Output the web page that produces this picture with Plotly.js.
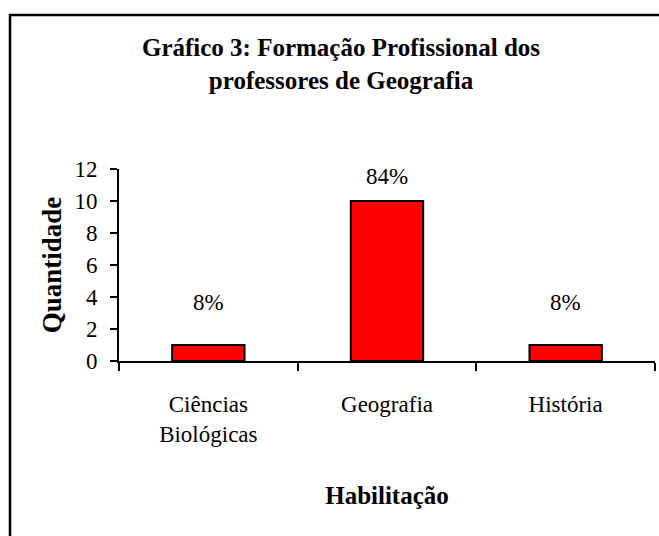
<!DOCTYPE html>
<html>
<head>
<meta charset="utf-8">
<script src="https://cdn.plot.ly/plotly-3.0.1.min.js"></script>
<style>html,body{margin:0;padding:0;background:#fff;}</style>
</head>
<body>
<div id="chart" style="width:659px;height:536px;"></div>
<script>
const categories = ["Ciências<br>Biológicas", "Geografia", "História"];
const quantities = [1, 10, 1];
const percentLabels = ["8%", "84%", "8%"];
const yTicks = [0, 2, 4, 6, 8, 10, 12];

const labelShift = [43, 25, 43];
const serif = "Liberation Serif";

const trace = {
  type: "bar",
  x: categories,
  y: quantities,
  marker: {color: "#FF0000", line: {color: "#000000", width: 2}},
  hoverinfo: "none"
};

const annotations = categories.map((c, i) => ({
  x: c, y: quantities[i], xref: "x", yref: "y",
  text: percentLabels[i], showarrow: false,
  yanchor: "middle", yshift: labelShift[i],
  font: {family: serif, size: 23, color: "#000"}
}));

const layout = {
  width: 659, height: 536,
  margin: {l: 119, r: 4, t: 169, b: 175},
  paper_bgcolor: "#fff", plot_bgcolor: "#fff",
  showlegend: false,
  bargap: 0.595,
  font: {family: serif, color: "#000"},
  title: {
    text: "<b>Gráfico 3: Formação Profissional dos<br>professores de Geografia</b>",
    font: {family: serif, size: 25, color: "#000"},
    xref: "container", x: 341/659, xanchor: "center",
    yref: "container", y: 1 - 56/536, yanchor: "top"
  },
  xaxis: {
    type: "category",
    range: [-0.5, 2.5],
    tickson: "boundaries",
    ticks: "outside", ticklen: 8, tickwidth: 2, tickcolor: "#000",
    showline: true, linecolor: "#000", linewidth: 2,
    showgrid: false, zeroline: false,
    tickfont: {family: serif, size: 23, color: "#000"},
    ticklabelstandoff: 21,
    title: {text: "<b>Habilitação</b>", font: {family: serif, size: 25, color: "#000"}, standoff: 41},
    fixedrange: true
  },
  yaxis: {
    range: [0, 12],
    tickvals: yTicks,
    ticks: "outside", ticklen: 7, tickwidth: 2, tickcolor: "#000",
    showline: true, linecolor: "#000", linewidth: 2,
    showgrid: false, zeroline: false,
    tickfont: {family: serif, size: 23, color: "#000"},
    ticklabelstandoff: 8,
    title: {text: "<b>Quantidade</b>", font: {family: serif, size: 27, color: "#000"}, standoff: 5},
    fixedrange: true
  },
  annotations: annotations,
  shapes: [{
    type: "rect", xref: "paper", yref: "paper",
    x0: (10 - 119) / 536, x1: (680 - 119) / 536,
    y0: (361 - 560) / 192, y1: (361 - 15) / 192,
    line: {color: "#000", width: 2.5}, fillcolor: "rgba(0,0,0,0)", layer: "above"
  }]
};

Plotly.newPlot("chart", [trace], layout, {displayModeBar: false, staticPlot: true});
</script>
</body>
</html>
